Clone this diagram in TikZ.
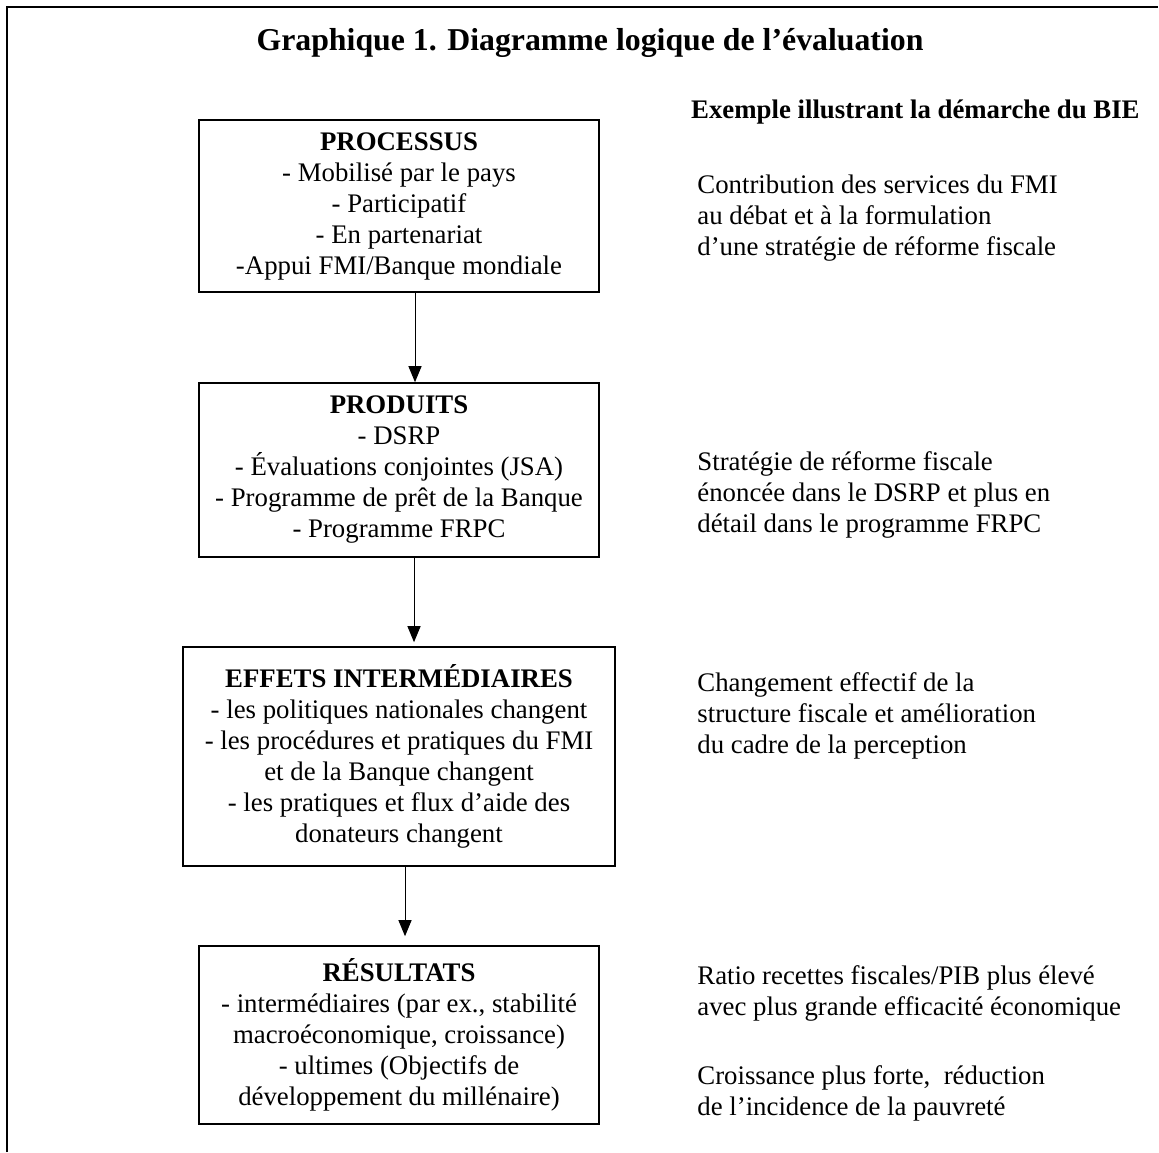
\documentclass[tikz,border=0pt]{standalone}
\usepackage{fontspec}
\setmainfont{Liberation Serif}
\usetikzlibrary{arrows.meta}
\begin{document}
\begin{tikzpicture}[x=0.5pt,y=-0.5pt,
  bodyfont/.style={font=\fontsize{13.4}{15.5}\selectfont},
  stagebox/.style={draw,line width=0.8pt,align=center,bodyfont,inner sep=0pt},
  flow/.style={line width=0.5pt,-{Triangle[length=8pt,width=6.5pt]}},
  note/.style={bodyfont,align=left,inner sep=0pt,anchor=base west}]
\useasboundingbox (0,0) rectangle (1159,1152);
\draw[line width=1pt] (7,1152) -- (7,7) -- (1158,7);
\node[inner sep=0pt,anchor=base,font=\fontsize{15.9}{18}\selectfont\bfseries] (title) at (590,50) {Graphique 1. Diagramme logique de l’évaluation};
\node[stagebox,minimum width=200pt,minimum height=86pt] (b1) at (399,206) {\textbf{PROCESSUS}\\- Mobilisé par le pays\\- Participatif\\- En partenariat\\-Appui FMI/Banque mondiale};
\node[stagebox,minimum width=200pt,minimum height=87pt] (b2) at (399,470) {\textbf{PRODUITS}\\- DSRP\\- Évaluations conjointes (JSA)\\- Programme de prêt de la Banque\\- Programme FRPC};
\node[stagebox,minimum width=216pt,minimum height=109.5pt] (b3) at (399,756.5) {\textbf{EFFETS INTERMÉDIAIRES}\\- les politiques nationales changent\\- les procédures et pratiques du FMI\\et de la Banque changent\\- les pratiques et flux d’aide des\\donateurs changent};
\node[stagebox,minimum width=200pt,minimum height=89pt] (b4) at (399,1035) {\textbf{RÉSULTATS}\\- intermédiaires (par ex., stabilité\\macroéconomique, croissance)\\- ultimes (Objectifs de\\développement du millénaire)};
\draw[flow] ([xshift=8pt]b1.south) -- ([xshift=8pt]b2.north);
\draw[flow,shorten >=2pt] ([xshift=7.5pt]b2.south) -- ([xshift=7.5pt]b3.north);
\draw[flow,shorten >=4.5pt] ([xshift=3pt]b3.south) -- ([xshift=3pt]b4.north);
\node[inner sep=0pt,anchor=base east,font=\fontsize{13.4}{15.5}\selectfont\bfseries] (hdr) at (1140,118) {Exemple illustrant la démarche du BIE};
\node[note] (n1) at (697,255) {Contribution des services du FMI\\au débat et à la formulation\\d’une stratégie de réforme fiscale};
\node[note] (n2) at (697,532) {Stratégie de réforme fiscale\\énoncée dans le DSRP et plus en\\détail dans le programme FRPC};
\node[note] (n3) at (697,753) {Changement effectif de la\\structure fiscale et amélioration\\du cadre de la perception};
\node[note] (n4) at (697,1015) {Ratio recettes fiscales/PIB plus élevé\\avec plus grande efficacité économique};
\node[note] (n5) at (697,1115) {Croissance plus forte,\ \ réduction\\de l’incidence de la pauvreté};
\end{tikzpicture}
\end{document}
